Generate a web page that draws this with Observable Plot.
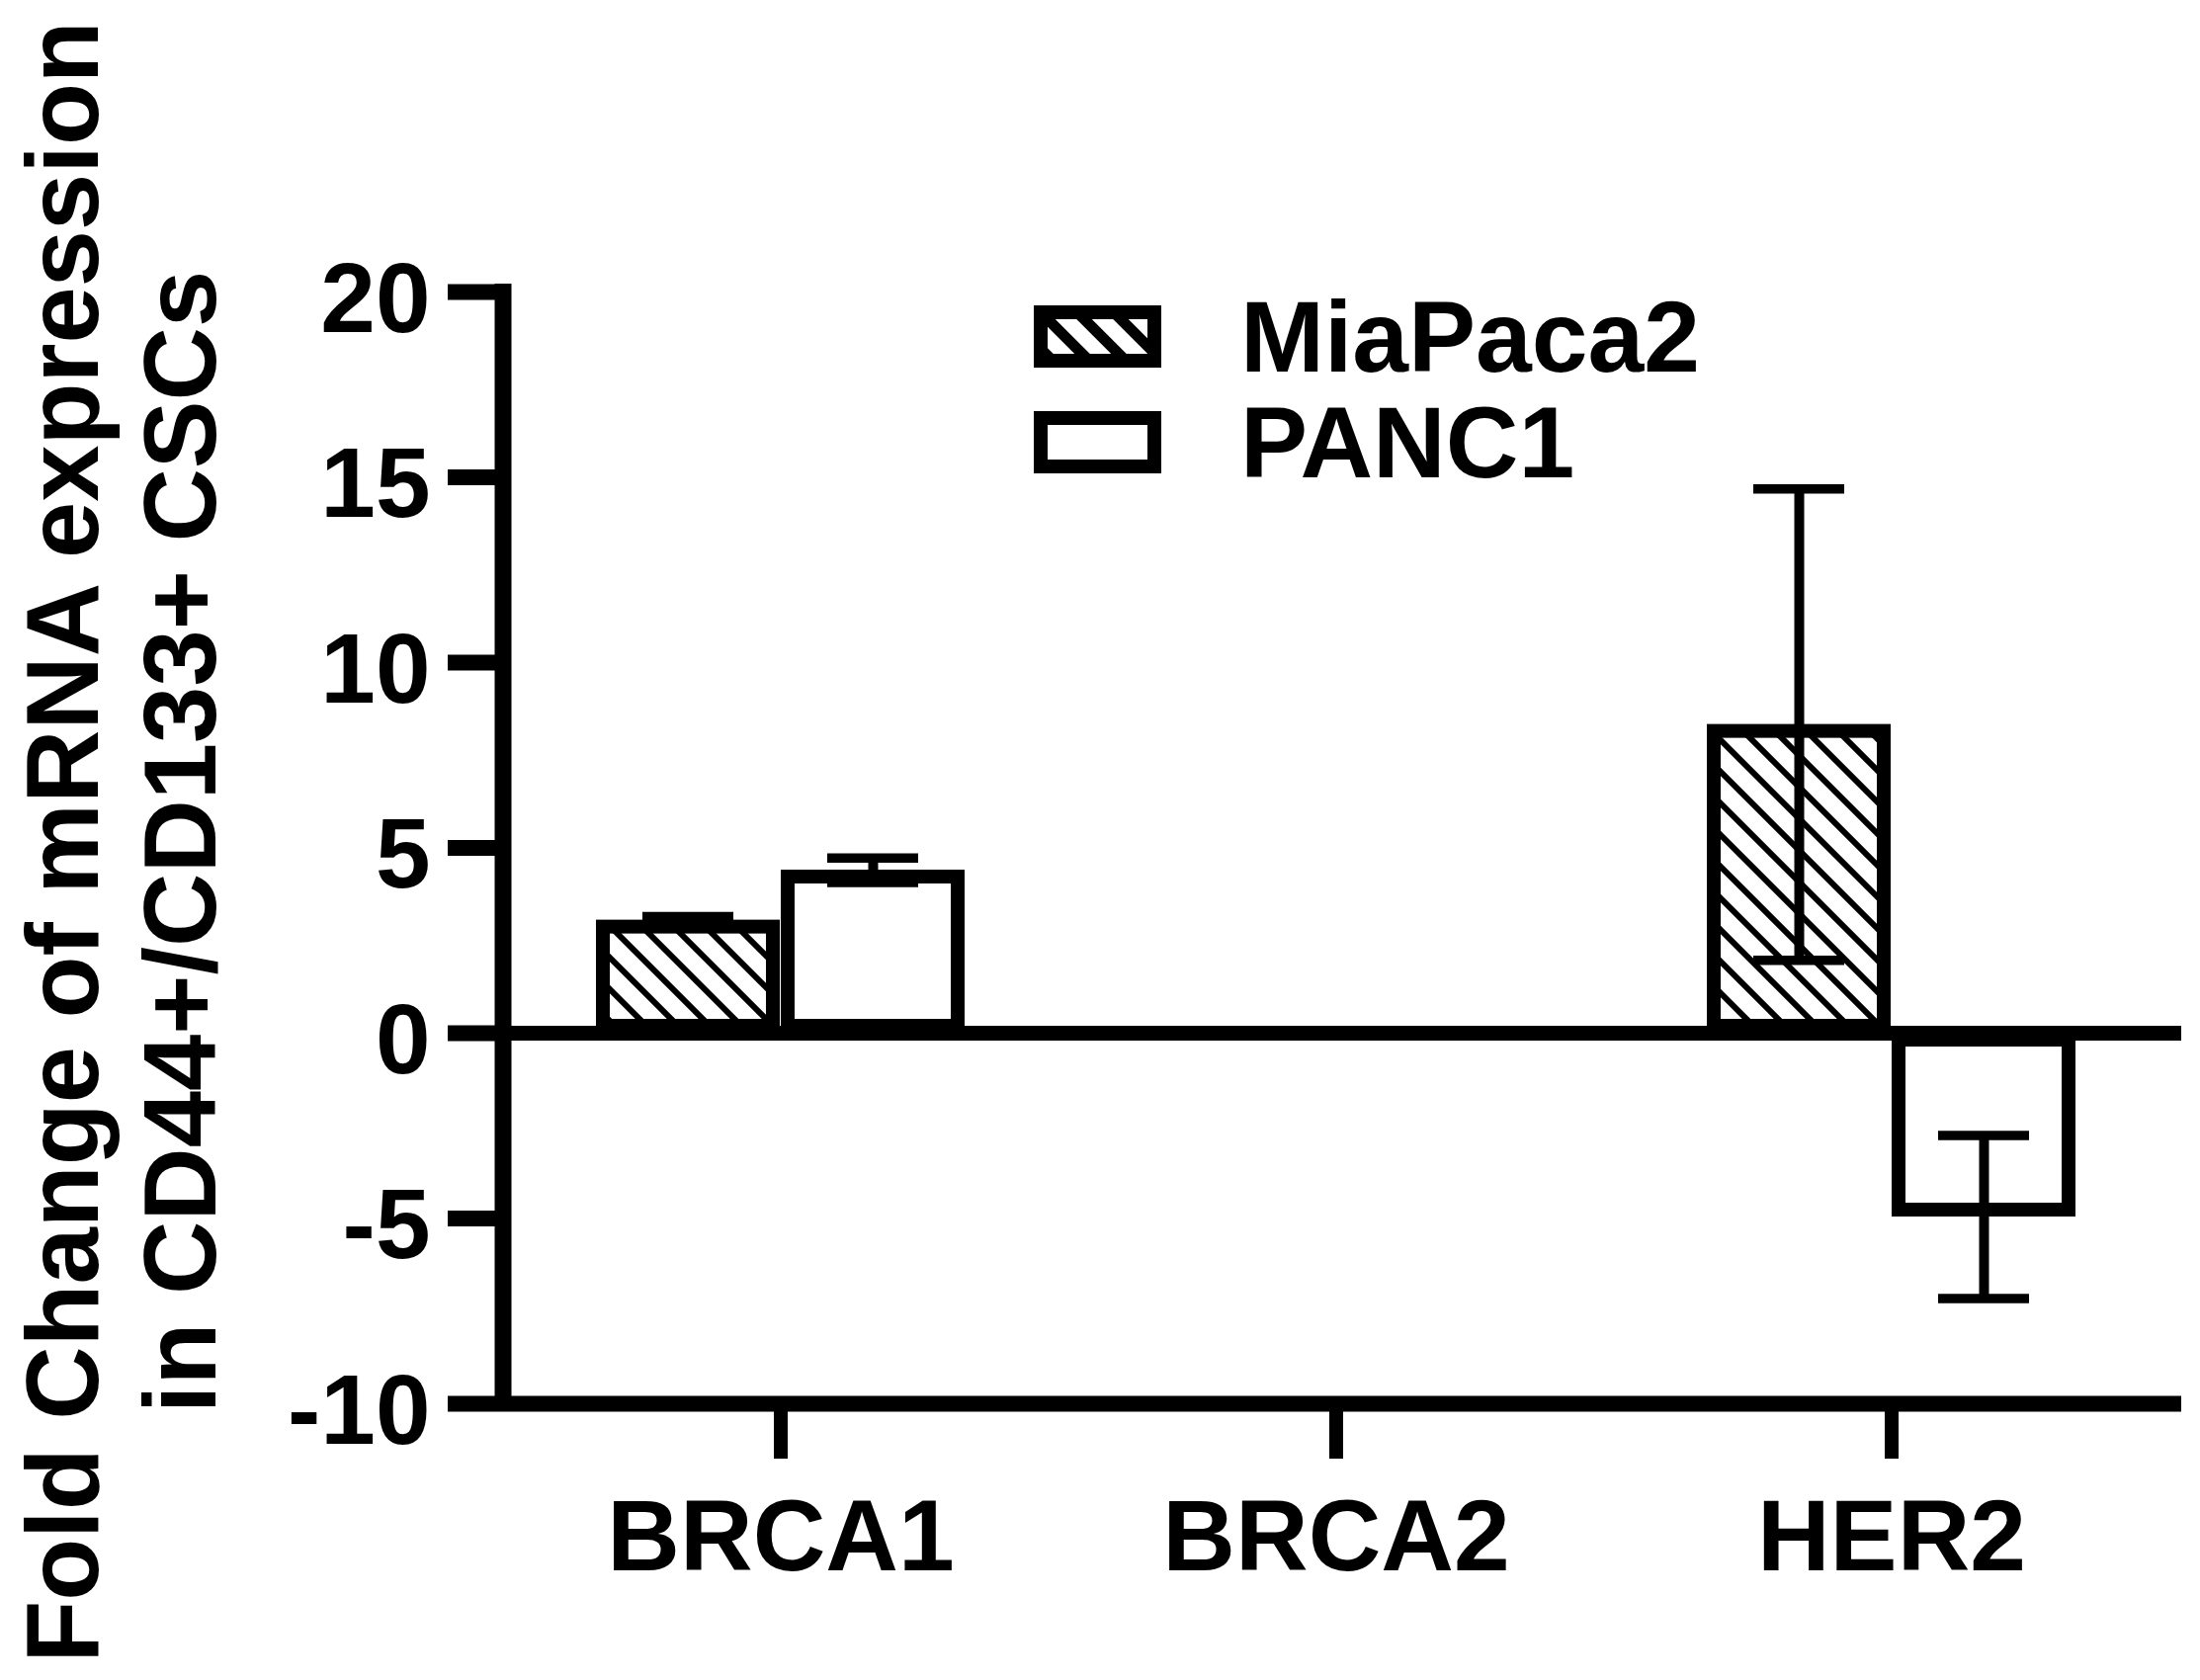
<!DOCTYPE html>
<html>
<head>
<meta charset="utf-8">
<script src="https://cdn.jsdelivr.net/npm/d3@7"></script>
<script src="https://cdn.jsdelivr.net/npm/@observablehq/plot@0.6"></script>
<style>
  html, body { margin: 0; padding: 0; background: #fff; overflow: hidden; }
  #wrap { position: relative; width: 2226px; height: 1700px; font-family: "Liberation Sans", Arial, sans-serif; font-weight: bold; color: #000; }
  #wrap svg { display: block; }
  .legend-item { position: absolute; display: flex; align-items: center; height: 63px; }
  .legend-item .label { font-size: 102px; line-height: 1; margin-left: 80px; white-space: nowrap; }
</style>
</head>
<body>
<div id="wrap"></div>
<script>
// ---- data ----
const genes = ["BRCA1", "BRCA2", "HER2"];
const seriesNames = ["MiaPaca2", "PANC1"];
const miaPaca2Mean = [3.05, null, 8.33];
const miaPaca2Sem  = [0.10, null, 6.36];
const panc1Mean    = [4.40, null, -4.96];
const panc1Sem     = [0.33, null, 2.20];
const yTicks = [-10, -5, 0, 5, 10, 15, 20];
const yTitle = "Fold Change of mRNA expression\nin CD44+/CD133+ CSCs";

const toRows = (means, sems) =>
  genes.map((g, i) => ({gene: g, mean: means[i], sem: sems[i]})).filter(d => d.mean != null);
const mia = toRows(miaPaca2Mean, miaPaca2Sem);
const panc = toRows(panc1Mean, panc1Sem);

// ---- layout ----
const W = 2226, H = 1700, ML = 509, MR = 19, MT = 295, MB = 280;
const padInner = 0.3357, padOuter = 0.176;
const step = (W - ML - MR) / (genes.length - padInner + 2 * padOuter);
const bw = step * (1 - padInner);
const sw = 14;           // bar outline
const capHalf = 46.5;    // half cap width

const yAxisLine = (index, scales, values, dim) => {
  const y = scales.y;
  const line = document.createElementNS("http://www.w3.org/2000/svg", "line");
  line.setAttribute("x1", dim.marginLeft);
  line.setAttribute("x2", dim.marginLeft);
  line.setAttribute("y1", y(yTicks[yTicks.length - 1]) - 8);
  line.setAttribute("y2", y(yTicks[0]) + 8);
  line.setAttribute("stroke", "black");
  line.setAttribute("stroke-width", 17);
  return line;
};

const errMarks = (rows, offset) => [
  Plot.ruleX(rows, {x: "gene", y1: d => d.mean - d.sem, y2: d => d.mean + d.sem, dx: offset, stroke: "black", strokeWidth: 10}),
  Plot.tickY(rows, {x: "gene", y: d => d.mean + d.sem, stroke: "black", strokeWidth: 9.5,
    insetLeft: bw / 2 + offset - capHalf, insetRight: bw / 2 - offset - capHalf}),
  Plot.tickY(rows, {x: "gene", y: d => d.mean - d.sem, stroke: "black", strokeWidth: 9.5,
    insetLeft: bw / 2 + offset - capHalf, insetRight: bw / 2 - offset - capHalf})
];

const chart = Plot.plot({
  width: W, height: H,
  marginLeft: ML, marginRight: MR, marginTop: MT, marginBottom: MB,
  style: {fontFamily: "'Liberation Sans', Arial, sans-serif", fontWeight: "bold", color: "black", background: "white", overflow: "visible"},
  x: {domain: genes, paddingInner: padInner, paddingOuter: padOuter, align: 0.47, label: null},
  y: {domain: [yTicks[0], yTicks[yTicks.length - 1]], label: null},
  marks: [
    Plot.ruleY([0], {stroke: "black", strokeWidth: 15}),
    Plot.barY(mia, {x: "gene", y: "mean", fill: "url(#hatch)", stroke: "black", strokeWidth: sw,
      insetTop: sw / 2, insetBottom: sw / 2, insetLeft: sw / 2, insetRight: bw / 2 + sw / 2}),
    Plot.barY(panc, {x: "gene", y: "mean", fill: "white", stroke: "black", strokeWidth: sw,
      insetTop: sw / 2, insetBottom: sw / 2, insetLeft: bw / 2 + sw / 2, insetRight: sw / 2}),
    ...errMarks(mia, -bw / 4),
    ...errMarks(panc, bw / 4),
    Plot.ruleY([yTicks[0]], {stroke: "black", strokeWidth: 16}),
    yAxisLine,
    Plot.axisY({ticks: yTicks, tickSize: 56, strokeWidth: 16, tickFormat: () => "", label: null}),
    Plot.axisY({ticks: yTicks, tickSize: 0, tickPadding: 74, dy: 8, tickFormat: d => `${d}`,
      fontSize: 100, fontWeight: "bold", label: null}),
    Plot.axisX({tickSize: 56, tickPadding: 40, strokeWidth: 14, fontSize: 102, fontWeight: "bold", label: null}),
    Plot.text([yTitle], {text: d => d, frameAnchor: "left", textAnchor: "middle", lineAnchor: "middle",
      rotate: -90, dx: -389, dy: -6, fontSize: 103, fontWeight: "bold", lineHeight: 1.157, fill: "black"})
  ]
});

d3.select(chart).insert("defs", ":first-child").html(`
  <pattern id="hatch" patternUnits="userSpaceOnUse" width="32" height="32">
    <rect width="32" height="32" fill="white"/>
    <path d="M-8,-8 L40,40 M-8,24 L8,40 M24,-8 L40,8" stroke="black" stroke-width="6"/>
  </pattern>`);

const wrap = document.getElementById("wrap");
wrap.appendChild(chart);

// ---- legend (HTML overlay) ----
const legendTops = [309, 416];
seriesNames.forEach((name, i) => {
  const item = document.createElement("div");
  item.className = "legend-item";
  item.style.left = "1046px";
  item.style.top = legendTops[i] + "px";
  const fill = i === 0 ? "url(#hatchL)" : "white";
  item.innerHTML = `
    <svg width="129" height="63" style="flex:none">
      <defs>
        <pattern id="hatchL" patternUnits="userSpaceOnUse" width="37" height="37">
          <rect width="37" height="37" fill="white"/>
          <path d="M-9,-9 L46,46 M-9,28 L9,46 M28,-9 L46,9" stroke="black" stroke-width="11"/>
        </pattern>
      </defs>
      <rect x="7" y="7" width="115" height="49" fill="${fill}" stroke="black" stroke-width="14"/>
    </svg>
    <span class="label">${name}</span>`;
  wrap.appendChild(item);
});
</script>
</body>
</html>
